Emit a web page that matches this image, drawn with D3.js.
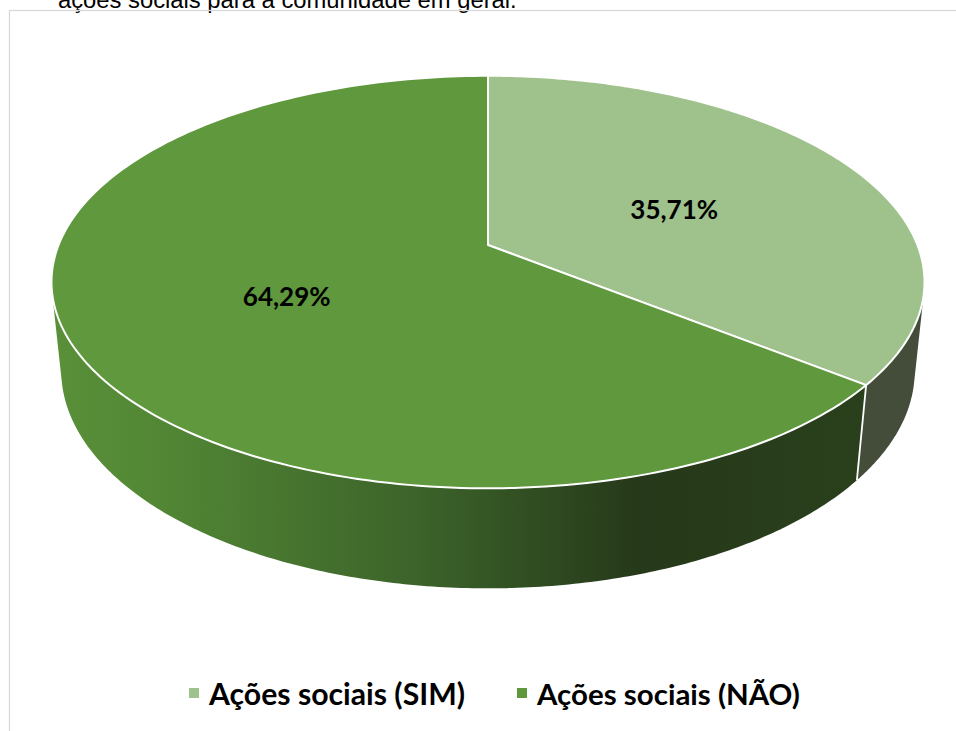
<!DOCTYPE html>
<html><head><meta charset="utf-8">
<script src="https://cdn.jsdelivr.net/npm/d3@7"></script>
<style>html,body{margin:0;padding:0;background:#fff;}svg{display:block;}</style>
</head><body>
<svg id="c" width="956" height="731"></svg>
<script>
const categories = ["Ações sociais (SIM)", "Ações sociais (NÃO)"];
const values = [35.71, 64.29];
const valueLabels = ["35,71%", "64,29%"];
const topColors = ["#9fc18c", "#5f983d"];
const sideColors = ["#434d39", null];
const captionText = "ações sociais para a comunidade em geral.";

const svg = d3.select("#c");
const W = 956, H = 731;

// caption (cut off at top)
const cap = svg.append("text").attr("x", 58).attr("y", 8)
  .attr("font-family", "Liberation Sans, Arial, sans-serif").attr("font-size", 24)
  .attr("fill", "#000").text(captionText);
const cw = cap.node().getComputedTextLength();
cap.attr("font-size", 24 * 459 / cw);

// chart border
svg.append("rect").attr("x", 9.5).attr("y", 10.5).attr("width", 980).attr("height", 760)
  .attr("fill", "none").attr("stroke", "#d9d9d9").attr("stroke-width", 1.3);

// 3D perspective projection
const cx = 488, cy = 245, f = 2117, D = 4.93, alpha = 27.7 * Math.PI / 180, hgt = 0.236;
const ca = Math.cos(alpha), sa = Math.sin(alpha);
function proj(X, Y, Z) {
  const d = D + Y * ca - Z * sa;
  return [cx + f * X / d, cy - f * (Y * sa + Z * ca) / d];
}
const pie = d3.pie().sort(null).value(d => d)(values);

const defs = svg.append("defs");
const g = defs.append("linearGradient").attr("id", "sideNao")
  .attr("gradientUnits", "userSpaceOnUse").attr("x1", 52).attr("x2", 866).attr("y1", 0).attr("y2", 0);
[[0, "#5a9039"], [0.15, "#518534"], [0.45, "#3c632a"], [0.72, "#26391a"], [1, "#2a401c"]]
  .forEach(s => g.append("stop").attr("offset", s[0]).attr("stop-color", s[1]));

const line = d3.line();
// visible outer-wall range
const cLim = Math.acos(-1 / (D * ca));
const vis0 = cLim, vis1 = 2 * Math.PI - cLim;
const N = 200;

pie.forEach((p, i) => {
  const a = Math.max(p.startAngle, vis0), b = Math.min(p.endAngle, vis1);
  if (b <= a) return;
  const topPts = [], botPts = [];
  for (let k = 0; k <= N; k++) {
    const t = a + (b - a) * k / N;
    topPts.push(proj(Math.sin(t), Math.cos(t), 0));
    botPts.push(proj(Math.sin(t), Math.cos(t), -hgt));
  }
  const pts = topPts.concat(botPts.reverse());
  svg.append("path").attr("d", line(pts) + "Z")
    .attr("fill", sideColors[i] || "url(#sideNao)");
});
// white edge at slice boundaries on the side
pie.forEach(p => {
  const t = p.startAngle;
  if (t > vis0 && t < vis1) {
    const p1 = proj(Math.sin(t), Math.cos(t), 0), p2 = proj(Math.sin(t), Math.cos(t), -hgt);
    svg.append("line").attr("x1", p1[0]).attr("y1", p1[1]).attr("x2", p2[0]).attr("y2", p2[1])
      .attr("stroke", "#fff").attr("stroke-width", 1.8);
  }
});

// top faces
pie.forEach((p, i) => {
  const pts = [proj(0, 0, 0)];
  for (let k = 0; k <= N; k++) {
    const t = p.startAngle + (p.endAngle - p.startAngle) * k / N;
    pts.push(proj(Math.sin(t), Math.cos(t), 0));
  }
  svg.append("path").attr("d", line(pts) + "Z")
    .attr("fill", topColors[i]).attr("stroke", "#fff").attr("stroke-width", 2).attr("stroke-linejoin", "round");
});

// data labels
pie.forEach((p, i) => {
  const m = (p.startAngle + p.endAngle) / 2;
  const pt = proj(0.5 * Math.sin(m), 0.5 * Math.cos(m), 0);
  svg.append("text").attr("x", pt[0]).attr("y", pt[1] + 16)
    .attr("text-anchor", "middle").attr("font-family", "Lato, sans-serif")
    .attr("font-weight", "bold").attr("font-size", 26).attr("fill", "#000")
    .text(valueLabels[i]);
});

// legend
const legX = [189, 517], legTextX = [209, 537], legW = [256, 263];
categories.forEach((c, i) => {
  svg.append("rect").attr("x", legX[i]).attr("y", 688).attr("width", 10).attr("height", 10)
    .attr("fill", topColors[i]);
  const t = svg.append("text").attr("x", legTextX[i]).attr("y", 705)
    .attr("font-family", "Lato, sans-serif").attr("font-weight", "bold").attr("font-size", 26)
    .attr("fill", "#000").text(c);
  const w = t.node().getComputedTextLength();
  t.attr("font-size", 26 * legW[i] / w);
});
</script>
</body></html>
